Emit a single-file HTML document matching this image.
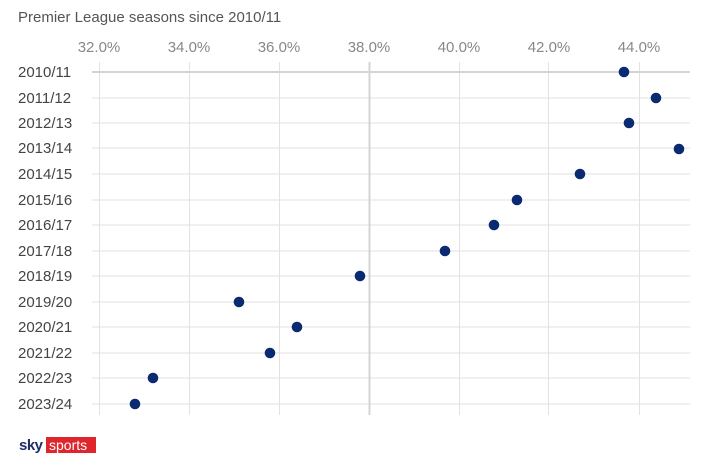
<!DOCTYPE html>
<html><head><style>
body{margin:0;background:#fff;}
svg{display:block;font-family:"Liberation Sans",sans-serif;}
</style></head><body>
<svg width="714" height="475" xmlns="http://www.w3.org/2000/svg">
<text x="18" y="22" font-size="15" fill="#555">Premier League seasons since 2010/11</text>
<g font-size="15" fill="#888" text-anchor="middle">
<text x="99" y="52">32.0%</text><text x="189" y="52">34.0%</text><text x="279" y="52">36.0%</text>
<text x="369" y="52">38.0%</text><text x="459" y="52">40.0%</text><text x="549" y="52">42.0%</text><text x="639" y="52">44.0%</text>
</g>
<g stroke="#e2e2e2" stroke-width="1">
<line x1="99.5" y1="62" x2="99.5" y2="415"/><line x1="189.5" y1="62" x2="189.5" y2="415"/><line x1="279.5" y1="62" x2="279.5" y2="415"/>
<line x1="459.5" y1="62" x2="459.5" y2="415"/><line x1="548.5" y1="62" x2="548.5" y2="415"/><line x1="639.5" y1="62" x2="639.5" y2="415"/>
<line x1="92" y1="98" x2="690" y2="98"/><line x1="92" y1="123" x2="690" y2="123"/><line x1="92" y1="148" x2="690" y2="148"/>
<line x1="92" y1="174" x2="690" y2="174"/><line x1="92" y1="200" x2="690" y2="200"/><line x1="92" y1="225" x2="690" y2="225"/>
<line x1="92" y1="251" x2="690" y2="251"/><line x1="92" y1="276" x2="690" y2="276"/><line x1="92" y1="302" x2="690" y2="302"/>
<line x1="92" y1="327" x2="690" y2="327"/><line x1="92" y1="353" x2="690" y2="353"/><line x1="92" y1="378" x2="690" y2="378"/>
<line x1="92" y1="404" x2="690" y2="404"/>
</g>
<line x1="92" y1="72" x2="690" y2="72" stroke="#d4d4d4" stroke-width="2"/>
<line x1="369.5" y1="62" x2="369.5" y2="415" stroke="#d4d4d4" stroke-width="2"/>
<g font-size="15" fill="#444">
<text x="18" y="77">2010/11</text><text x="18" y="103">2011/12</text><text x="18" y="128">2012/13</text>
<text x="18" y="153">2013/14</text><text x="18" y="179">2014/15</text><text x="18" y="205">2015/16</text>
<text x="18" y="230">2016/17</text><text x="18" y="256">2017/18</text><text x="18" y="281">2018/19</text>
<text x="18" y="307">2019/20</text><text x="18" y="332">2020/21</text><text x="18" y="358">2021/22</text>
<text x="18" y="383">2022/23</text><text x="18" y="409">2023/24</text>
</g>
<g fill="#0a2a72">
<circle cx="624" cy="72" r="5.3"/><circle cx="656" cy="98" r="5.3"/><circle cx="629" cy="123" r="5.3"/>
<circle cx="679" cy="149" r="5.3"/><circle cx="580" cy="174" r="5.3"/><circle cx="517" cy="200" r="5.3"/>
<circle cx="494" cy="225" r="5.3"/><circle cx="445" cy="251" r="5.3"/><circle cx="360" cy="276" r="5.3"/>
<circle cx="239" cy="302" r="5.3"/><circle cx="297" cy="327" r="5.3"/><circle cx="270" cy="353" r="5.3"/>
<circle cx="153" cy="378" r="5.3"/><circle cx="135" cy="404" r="5.3"/>
</g>
<text x="19" y="450" font-size="15" font-weight="bold" fill="#1f2d6b" letter-spacing="-0.5">sky</text>
<rect x="46" y="437" width="50" height="16" fill="#e0262d"/>
<text x="49" y="450" font-size="14" fill="#fff">sports</text>
</svg>
</body></html>
